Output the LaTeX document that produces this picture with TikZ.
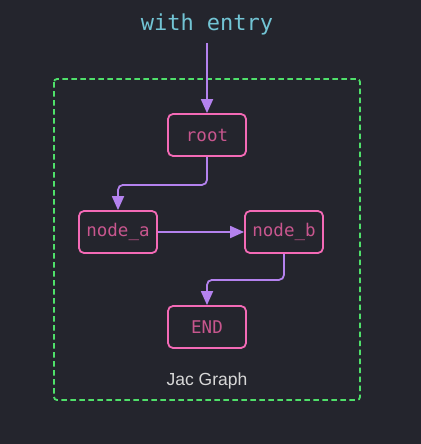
\documentclass[tikz,border=0pt]{standalone}
\usepackage{fontspec}
\setmainfont{Liberation Sans}
\setmonofont{DejaVu Sans Mono}
\usepackage{xcolor}
\usepackage{tikz}
\usetikzlibrary{positioning}
\usetikzlibrary{arrows.meta}
\definecolor{bgdark}{HTML}{24252D}
\definecolor{entrycyan}{HTML}{72C4D4}
\definecolor{boxpink}{HTML}{F46AB6}
\definecolor{labelpink}{HTML}{C8568E}
\definecolor{flowpurple}{HTML}{B482EE}
\definecolor{clustergreen}{HTML}{4FE06A}
\definecolor{captiongray}{HTML}{D8D8D8}
\tikzset{	node distance=166pt,
	graphnode/.style={
		draw=boxpink,
		line width=1.8pt,
		rounded corners=5pt,
		minimum width=78pt,
		minimum height=42pt,
		text=labelpink,
		font=\ttfamily\fontsize{17.5}{19}\selectfont},
	flow/.style={
		draw=flowpurple,
		line width=1.8pt,
		rounded corners=5pt,
		-{Triangle[length=14pt,width=12pt]}}
}

\begin{document}
\begin{tikzpicture}[x=1pt,y=-1pt]
				\useasboundingbox (0,0) rectangle (420,444);
				\fill[bgdark] (-6,-6) rectangle (426,450);
				\draw[clustergreen, line width=1.8pt, dash pattern=on 5.5pt off 3.5pt, rounded corners=3pt] (54,79) rectangle (360,400);
				\node[text=entrycyan, font=\ttfamily\fontsize{22}{25}\selectfont] (title) at (207,24) {with entry};
				\coordinate (entry) at (207,43);
				\node[graphnode] (root) at (207,135) {root};
				\node[graphnode] (node_a) at (118,232) {node\_a};
				\node[graphnode, right of=node_a] (node_b) {node\_b};
				\node[graphnode] (end) at (207,327) {END};
				\node[text=captiongray, font=\fontsize{17.5}{19}\selectfont] (caption) at (207,381) {Jac Graph};
				\draw[flow] (entry) -- (root.north);
				\draw[flow] (root.south) -- ++(0,28) -| (node_a.north);
				\draw[flow] (node_a.east) -- (node_b.west);
				\draw[flow] (node_b.south) -- ++(0,26) -| (end.north);
			\end{tikzpicture}
\end{document}
